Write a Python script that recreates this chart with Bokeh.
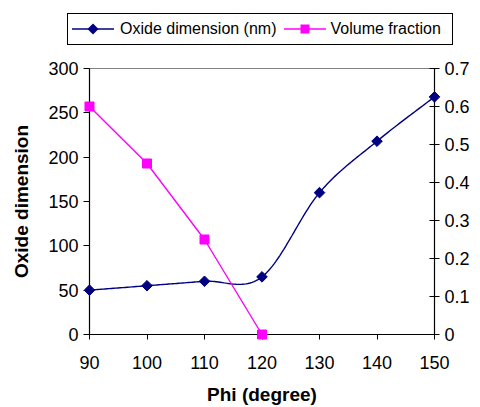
import numpy as np
from bokeh.plotting import figure
from bokeh.layouts import column
from bokeh.models import (Range1d, LinearAxis, FixedTicker, Div)
from bokeh.embed import file_html
from bokeh.resources import INLINE

# ---- data ----
phi = [90, 100, 110, 120, 130, 140, 150]
oxide_dim = [50, 55, 60, 65, 160, 218, 268]
phi_vf = [90, 100, 110, 120]
vol_frac = [0.60, 0.45, 0.25, 0.0]
x_ticks = [90, 100, 110, 120, 130, 140, 150]
y_ticks = [0, 50, 100, 150, 200, 250, 300]
y2_ticks = [0, 0.1, 0.2, 0.3, 0.4, 0.5, 0.6, 0.7]
y2_labels = ["0", "0.1", "0.2", "0.3", "0.4", "0.5", "0.6", "0.7"]
series_names = ["Oxide dimension (nm)", "Volume fraction"]

FONT = "Liberation Sans"
NAVY = "#000080"
MAG = "#FF00FF"


def smooth(xs, ys, n=30):
    """Excel-like smoothed line (Catmull-Rom as cubic Bezier)."""
    P = list(zip(xs, ys))
    out_x, out_y = [], []
    for i in range(len(P) - 1):
        p0 = P[i - 1] if i > 0 else P[i]
        p1 = P[i]
        p2 = P[i + 1]
        p3 = P[i + 2] if i + 2 < len(P) else P[i + 1]
        c1 = (p1[0] + (p2[0] - p0[0]) / 6, p1[1] + (p2[1] - p0[1]) / 6)
        c2 = (p2[0] - (p3[0] - p1[0]) / 6, p2[1] - (p3[1] - p1[1]) / 6)
        t = np.linspace(0, 1, n)
        bx = (1 - t) ** 3 * p1[0] + 3 * (1 - t) ** 2 * t * c1[0] + 3 * (1 - t) * t ** 2 * c2[0] + t ** 3 * p2[0]
        by = (1 - t) ** 3 * p1[1] + 3 * (1 - t) ** 2 * t * c1[1] + 3 * (1 - t) * t ** 2 * c2[1] + t ** 3 * p2[1]
        out_x.extend(bx.tolist())
        out_y.extend(by.tolist())
    return out_x, out_y


# ---------- legend strip (HTML) ----------
LEG_H = 50
diamond_svg = ('<svg width="42" height="16" style="display:block">'
               f'<line x1="0" y1="8" x2="42" y2="8" stroke="{NAVY}" stroke-width="1.4"/>'
               f'<polygon points="21,2.5 26.5,8 21,13.5 15.5,8" fill="{NAVY}"/></svg>')
square_svg = ('<svg width="42" height="16" style="display:block">'
              f'<line x1="0" y1="8" x2="42" y2="8" stroke="{MAG}" stroke-width="1.4"/>'
              f'<rect x="16.5" y="3.5" width="9" height="9" fill="{MAG}"/></svg>')
legend_html = (
    f'<div style="position:relative;width:480px;height:{LEG_H}px;">'
    '<div style="position:absolute;left:67px;top:13px;width:384px;height:30px;'
    'border:1px solid black;display:flex;align-items:center;box-sizing:content-box;'
    f"font-family:'{FONT}',Arial,sans-serif;font-size:16px;color:black;white-space:nowrap;\">"
    f'<span style="margin-left:4px">{diamond_svg}</span>'
    f'<span style="margin-left:6px">{series_names[0]}</span>'
    f'<span style="margin-left:7px">{square_svg}</span>'
    f'<span style="margin-left:5px">{series_names[1]}</span>'
    '</div></div>'
)
leg = Div(text=legend_html, width=480, height=LEG_H, margin=0)

# ---------- main chart ----------
p = figure(width=480, height=407 - LEG_H, output_backend="svg", toolbar_location=None,
           x_range=Range1d(90, 150), y_range=Range1d(0, 300),
           min_border_left=89, min_border_right=46, min_border_top=68 - LEG_H, min_border_bottom=73)
p.extra_y_ranges = {"vf": Range1d(0, 0.7)}

p.xgrid.visible = False
p.ygrid.visible = False
p.outline_line_color = "#808080"
p.background_fill_color = "white"
p.border_fill_color = "white"

sx, sy = smooth(phi, oxide_dim)
p.line(sx, sy, line_color=NAVY, line_width=1.4)
p.scatter(phi, oxide_dim, marker="square", angle=np.pi / 4, size=7.5,
          fill_color=NAVY, line_color=NAVY, level="overlay")

p.line(phi_vf, vol_frac, line_color=MAG, line_width=1.4, y_range_name="vf")
p.scatter(phi_vf, vol_frac, marker="square", size=9, fill_color=MAG, line_color=MAG,
          y_range_name="vf", level="overlay")

xa = p.xaxis[0]
xa.ticker = FixedTicker(ticks=x_ticks)
xa.axis_label = "Phi (degree)"
ya = p.yaxis[0]
ya.ticker = FixedTicker(ticks=y_ticks)
ya.axis_label = "Oxide dimension"

ra = LinearAxis(y_range_name="vf", ticker=FixedTicker(ticks=y2_ticks))
ra.major_label_overrides = {t: s for t, s in zip(y2_ticks, y2_labels)}
p.add_layout(ra, "right")

for ax in [xa, ya, ra]:
    ax.axis_line_color = "black"
    ax.axis_line_width = 1.2
    ax.major_tick_line_color = "black"
    ax.minor_tick_line_color = None
    ax.major_label_text_font = FONT
    ax.major_label_text_font_size = "18px"
    ax.major_label_text_color = "black"
    ax.axis_label_text_font = FONT
    ax.axis_label_text_font_size = "19px"
    ax.axis_label_text_font_style = "bold"
    ax.axis_label_text_color = "black"

xa.major_tick_in = 0
xa.major_tick_out = 5
xa.major_label_standoff = 16
xa.axis_label_standoff = 12
ya.major_tick_in = 0
ya.major_tick_out = 6
ya.major_label_standoff = 5
ya.axis_label_standoff = 13
ra.major_tick_in = 5
ra.major_tick_out = 5
ra.major_label_standoff = 5

layout = column(leg, p, spacing=0)
open("out.html", "w").write(file_html(layout, INLINE))
